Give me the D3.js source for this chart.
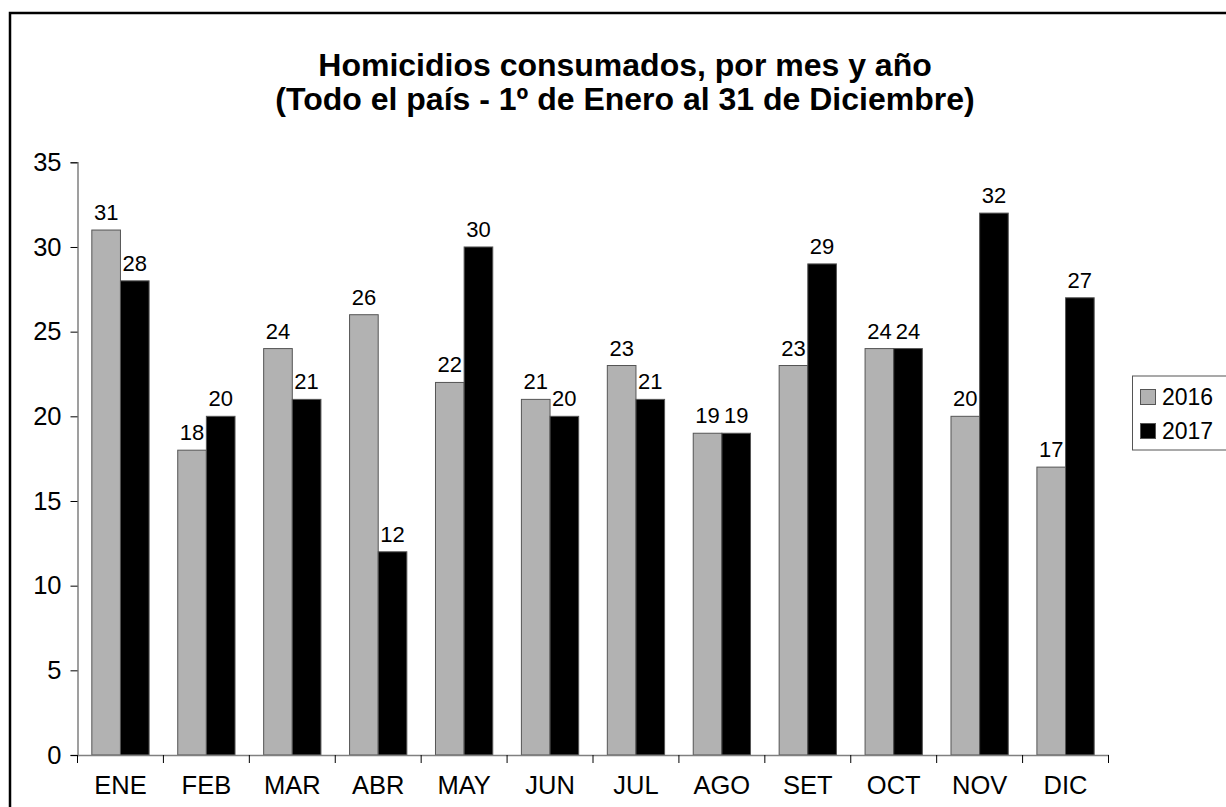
<!DOCTYPE html>
<html><head><meta charset="utf-8">
<script src="https://cdn.jsdelivr.net/npm/d3@7"></script>
<style>body{margin:0;background:#fff}svg{display:block}text{font-family:"Liberation Sans",Arial,sans-serif}</style>
</head><body>
<svg id="c" width="1226" height="807"></svg>
<script>
const months = ["ENE","FEB","MAR","ABR","MAY","JUN","JUL","AGO","SET","OCT","NOV","DIC"];
const seriesNames = ["2016","2017"];
const values2016 = [31,18,24,26,22,21,23,19,23,24,20,17];
const values2017 = [28,20,21,12,30,20,21,19,29,24,32,27];
const yTicks = [0,5,10,15,20,25,30,35];
const titleLines = ["Homicidios consumados, por mes y año","(Todo el país - 1º de Enero al 31 de Diciembre)"];
const colors = ["#b2b2b2","#000000"];

const svg = d3.select("#c");
// outer frame
svg.append("rect").attr("x",10).attr("y",13).attr("width",1400).attr("height",1000)
  .attr("fill","none").attr("stroke","#000").attr("stroke-width",2.5);

const pLeft=77.5, pRight=1108.5, pTop=162.3, pBottom=755;
const y = d3.scaleLinear().domain([0,35]).range([pBottom,pTop]);
const x0 = d3.scaleBand().domain(months).range([pLeft,pRight]).padding(0);
const bw = x0.bandwidth();
const x1 = d3.scaleBand().domain(seriesNames).range([bw/6, bw*5/6]).padding(0);

// title
svg.append("g").selectAll("text").data(titleLines).join("text")
  .attr("x",625).attr("y",(d,i)=>76+i*34).attr("text-anchor","middle")
  .attr("font-size",32).attr("font-weight","bold").text(d=>d);

const data = months.map((m,i)=>({m, vals:[{s:"2016",v:values2016[i]},{s:"2017",v:values2017[i]}]}));

// bars
const g = svg.append("g");
const groups = g.selectAll("g").data(data).join("g").attr("transform",d=>`translate(${x0(d.m)},0)`);
groups.selectAll("rect").data(d=>d.vals).join("rect")
  .attr("x",d=>x1(d.s)).attr("width",x1.bandwidth())
  .attr("y",d=>y(d.v)).attr("height",d=>y(0)-y(d.v))
  .attr("fill",(d,i)=>colors[i]).attr("stroke","#555").attr("stroke-width",1);
groups.selectAll("text").data(d=>d.vals).join("text")
  .attr("x",d=>x1(d.s)+x1.bandwidth()/2).attr("y",d=>y(d.v)-10)
  .attr("text-anchor","middle").attr("font-size",22).text(d=>d.v);

// y axis
const yAxis = svg.append("g").attr("transform",`translate(${pLeft},0)`)
  .call(d3.axisLeft(y).tickValues(yTicks).tickSize(7).tickPadding(9).tickFormat(d3.format("d")));
yAxis.select(".domain").attr("stroke","#808080").attr("stroke-width",1.5);
yAxis.selectAll(".tick line").attr("stroke","#000");
yAxis.selectAll("text").attr("font-size",25.5).attr("fill","#000").style("font-family",'"Liberation Sans",Arial,sans-serif');

// x axis
const xAxis = svg.append("g").attr("transform",`translate(0,${pBottom})`)
  .call(d3.axisBottom(x0).tickSize(0).tickPadding(0));
xAxis.select(".domain").attr("stroke","#808080").attr("stroke-width",1.5);
xAxis.selectAll(".tick text").attr("font-size",25.5).attr("fill","#000").attr("dy",0).attr("y",39)
  .style("font-family",'"Liberation Sans",Arial,sans-serif');
const bounds = months.map(m=>x0(m)).concat([pRight]);
xAxis.selectAll("line.sep").data(bounds).join("line").attr("class","sep")
  .attr("x1",d=>d).attr("x2",d=>d).attr("y1",0).attr("y2",8).attr("stroke","#000");

// legend
const lg = svg.append("g");
lg.append("rect").attr("x",1132.5).attr("y",376).attr("width",120).attr("height",74)
  .attr("fill","#fff").attr("stroke","#555").attr("stroke-width",1);
const li = lg.selectAll("g").data(seriesNames).join("g").attr("transform",(d,i)=>`translate(0,${i*34})`);
li.append("rect").attr("x",1140.5).attr("y",389.5).attr("width",15).attr("height",15)
  .attr("fill",(d,i)=>colors[i]).attr("stroke","#555");
li.append("text").attr("x",1162).attr("y",405).attr("font-size",23).text(d=>d);
</script>
</body></html>
